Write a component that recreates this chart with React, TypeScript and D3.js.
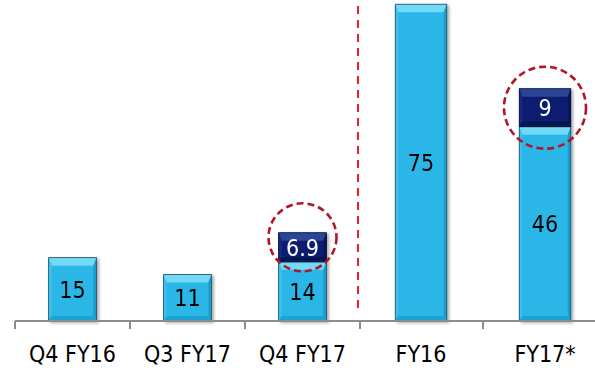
import React from "react";
import * as d3 from "d3";

// Quarterly group (left) and full-year group (right)
const quarterCats = ["Q4 FY16", "Q3 FY17", "Q4 FY17"];
const quarterBase = [15, 11, 14];
const quarterExtra = [0, 0, 6.9];

const yearCats = ["FY16", "FY17*"];
const yearBase = [75, 46];
const yearExtra = [0, 9];

const W = 595;
const H = 368;
const baseY = 321;
const FONT = "'DejaVu Sans Condensed', 'DejaVu Sans', Verdana, sans-serif";

const LIGHT = { main: "#2bb6e6", top: "#72d9f6", left: "#3ec1ec", right: "#1c9ccc", bottom: "#1fa3d4", stroke: "#1d4f63", text: "#000" };
const DARK = { main: "#0b1f6f", top: "#2c4596", left: "#14297c", right: "#07175a", bottom: "#06144f", stroke: "#061040", text: "#fff" };

type Pal = typeof LIGHT;

function BevelBox({ x, y, w, h, pal, label }: { x: number; y: number; w: number; h: number; pal: Pal; label: string }) {
  const bt = Math.min(8, h / 3);
  const bs = 3;
  const bb = Math.min(5, h / 4);
  const x1 = x + w;
  const y1 = y + h;
  const pts = (a: number[][]) => a.map((p) => p.join(",")).join(" ");
  return (
    <g>
      <rect x={x} y={y} width={w} height={h} fill={pal.main} />
      <polygon points={pts([[x, y], [x1, y], [x1 - bs, y + bt], [x + bs, y + bt]])} fill={pal.top} />
      <polygon points={pts([[x, y], [x + bs, y + bt], [x + bs, y1 - bb], [x, y1]])} fill={pal.left} />
      <polygon points={pts([[x1, y], [x1 - bs, y + bt], [x1 - bs, y1 - bb], [x1, y1]])} fill={pal.right} />
      <polygon points={pts([[x, y1], [x + bs, y1 - bb], [x1 - bs, y1 - bb], [x1, y1]])} fill={pal.bottom} />
      <rect x={x} y={y} width={w} height={h} fill="none" stroke={pal.stroke} strokeWidth={0.8} />
      <text
        x={x + w / 2}
        y={y + h / 2}
        dy="0.36em"
        textAnchor="middle"
        fontFamily={FONT}
        fontSize={23}
        fill={pal.text}
      >
        {label}
      </text>
    </g>
  );
}

export default function App() {
  const y = d3.scaleLinear().domain([0, 76]).range([baseY, 0]);
  const pi = 0.585;
  const xq = d3.scaleBand<string>().domain(quarterCats).range([15, 360]).paddingInner(pi).paddingOuter(pi / 2);
  const xy = d3.scaleBand<string>().domain(yearCats).range([359, 607]).paddingInner(pi).paddingOuter(pi / 2);

  const groups = [
    { scale: xq, cats: quarterCats, base: quarterBase, extra: quarterExtra, circleR: 34, circleDy: -10 },
    { scale: xy, cats: yearCats, base: yearBase, extra: yearExtra, circleR: 41, circleDy: 0 },
  ];

  const ticks = [15, ...quarterCats.map((c) => (xq(c) as number) + xq.bandwidth() / 2 + xq.step() / 2),
    ...yearCats.map((c) => (xy(c) as number) + xy.bandwidth() / 2 + xy.step() / 2)];
  const divider = 358;

  return (
    <svg width={W} height={H} style={{ position: "absolute", left: 0, top: 0 }}>
      <defs>
        <filter id="shadow" x="-20%" y="-10%" width="140%" height="130%">
          <feDropShadow dx="2" dy="1.5" stdDeviation="1.5" floodColor="#000" floodOpacity="0.35" />
        </filter>
      </defs>

      {/* divider between quarters and full years */}
      <line x1={divider} x2={divider} y1={6} y2={310} stroke="#e8222c" strokeWidth={2} strokeDasharray="8 6" />

      {groups.map((g, gi) => (
        <g key={gi}>
          {g.cats.map((c, i) => {
            const x0 = g.scale(c) as number;
            const bw = g.scale.bandwidth();
            const b = g.base[i];
            const e = g.extra[i];
            return (
              <g key={c}>
                <g filter="url(#shadow)">
                  <BevelBox x={x0} y={y(b)} w={bw} h={baseY - y(b)} pal={LIGHT} label={String(b)} />
                  {e > 0 && (
                    <BevelBox x={x0} y={y(b + e)} w={bw} h={y(b) - y(b + e)} pal={DARK} label={String(e)} />
                  )}
                </g>
                {e > 0 && (
                  <circle
                    cx={x0 + bw / 2}
                    cy={(y(b) + y(b + e)) / 2 + g.circleDy}
                    r={g.circleR}
                    fill="none"
                    stroke="#b0182a"
                    strokeWidth={2.6}
                    strokeDasharray="7 4"
                  />
                )}
                <text
                  x={x0 + bw / 2}
                  y={362}
                  textAnchor="middle"
                  fontFamily={FONT}
                  fontSize={23}
                  fill="#000"
                >
                  {c}
                </text>
              </g>
            );
          })}
        </g>
      ))}

      {/* category axis */}
      <line x1={15} x2={W} y1={baseY} y2={baseY} stroke="#8c8c8c" strokeWidth={2} />
      {ticks.map((t, i) => (
        <line key={i} x1={t} x2={t} y1={baseY} y2={baseY + 8} stroke="#8c8c8c" strokeWidth={2} />
      ))}
    </svg>
  );
}
